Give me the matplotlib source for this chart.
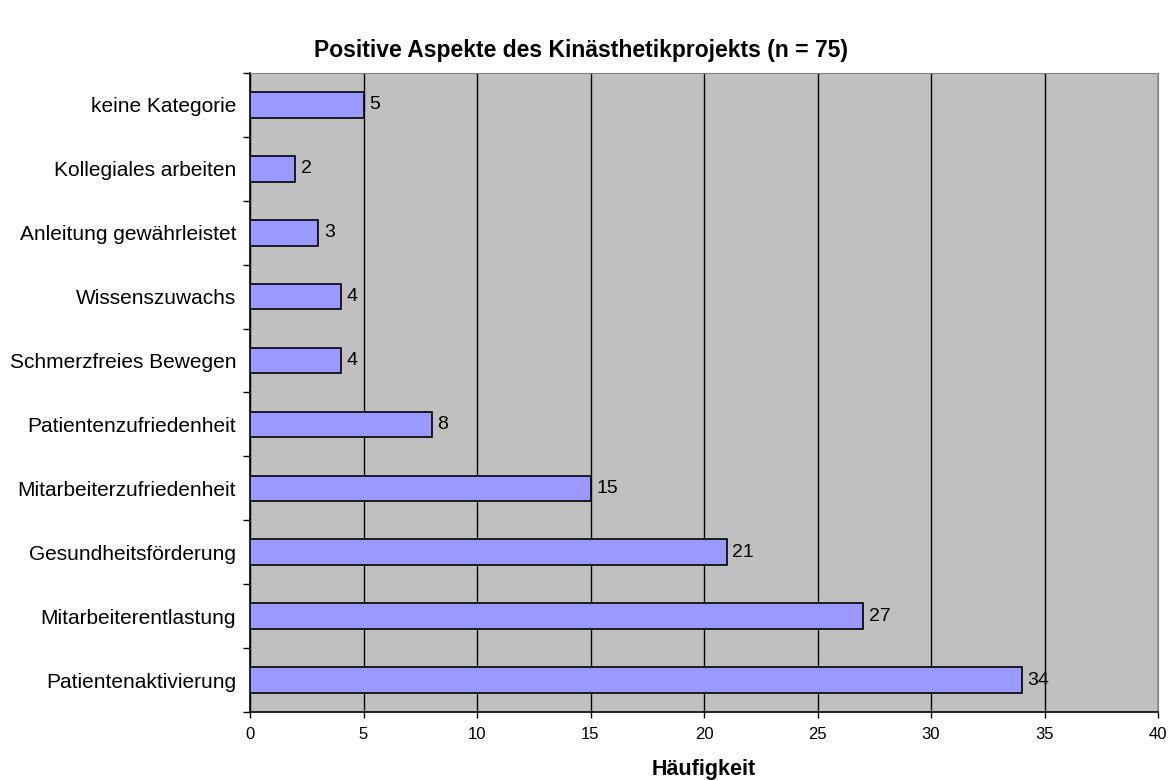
import matplotlib
matplotlib.use("Agg")
import matplotlib.pyplot as plt
from matplotlib.ticker import FixedLocator

plt.rcParams['font.family'] = ['Liberation Sans', 'DejaVu Sans']

categories = ["Patientenaktivierung", "Mitarbeiterentlastung", "Gesundheitsförderung",
              "Mitarbeiterzufriedenheit", "Patientenzufriedenheit", "Schmerzfreies Bewegen",
              "Wissenszuwachs", "Anleitung gewährleistet", "Kollegiales arbeiten", "keine Kategorie"]
values = [34, 27, 21, 15, 8, 4, 4, 3, 2, 5]
xticks = [0, 5, 10, 15, 20, 25, 30, 35, 40]

fig = plt.figure(figsize=(11.74, 7.8), dpi=100)
ax = fig.add_axes([250/1174, 1-712/780, (1158-250)/1174, (712-73)/780])
ax.set_facecolor('#C0C0C0')
ax.set_axisbelow(True)

pos = list(range(len(categories)))
ax.barh(pos, values, height=0.4, color='#9999FF', edgecolor='black', linewidth=1.2, zorder=3)
for p, v in zip(pos, values):
    ax.text(v + 0.25, p, str(v), va='center', ha='left', fontsize=14, zorder=4)

ax.set_xlim(0, 40)
ax.set_ylim(-0.5, len(categories) - 0.5)
ax.xaxis.set_major_locator(FixedLocator(xticks))
ax.xaxis.grid(True, color='black', linewidth=1)
ax.set_yticks(pos)
ax.set_yticklabels(categories, fontsize=15)
ax.yaxis.set_minor_locator(FixedLocator([p - 0.5 for p in pos] + [len(pos) - 0.5]))
ax.tick_params(axis='y', which='major', length=0, pad=10)
ax.tick_params(axis='y', which='minor', length=5, width=1, direction='out')
ax.tick_params(axis='x', which='major', length=4, width=1, direction='out', labelsize=12, pad=7)

for s in ['top', 'right']:
    ax.spines[s].set_color('#808080')
for s in ['left', 'bottom']:
    ax.spines[s].set_color('black')
    ax.spines[s].set_linewidth(1.2)

fig.text(704/1174, 1-775/780, 'Häufigkeit', ha='center', va='baseline',
         fontsize=15.5, fontweight='bold')
fig.text(581/1174, 1-50/780, 'Positive Aspekte des Kinästhetikprojekts (n = 75)',
         ha='center', va='center', fontsize=16.5, fontweight='bold')

fig.savefig('out.png', dpi=100)
